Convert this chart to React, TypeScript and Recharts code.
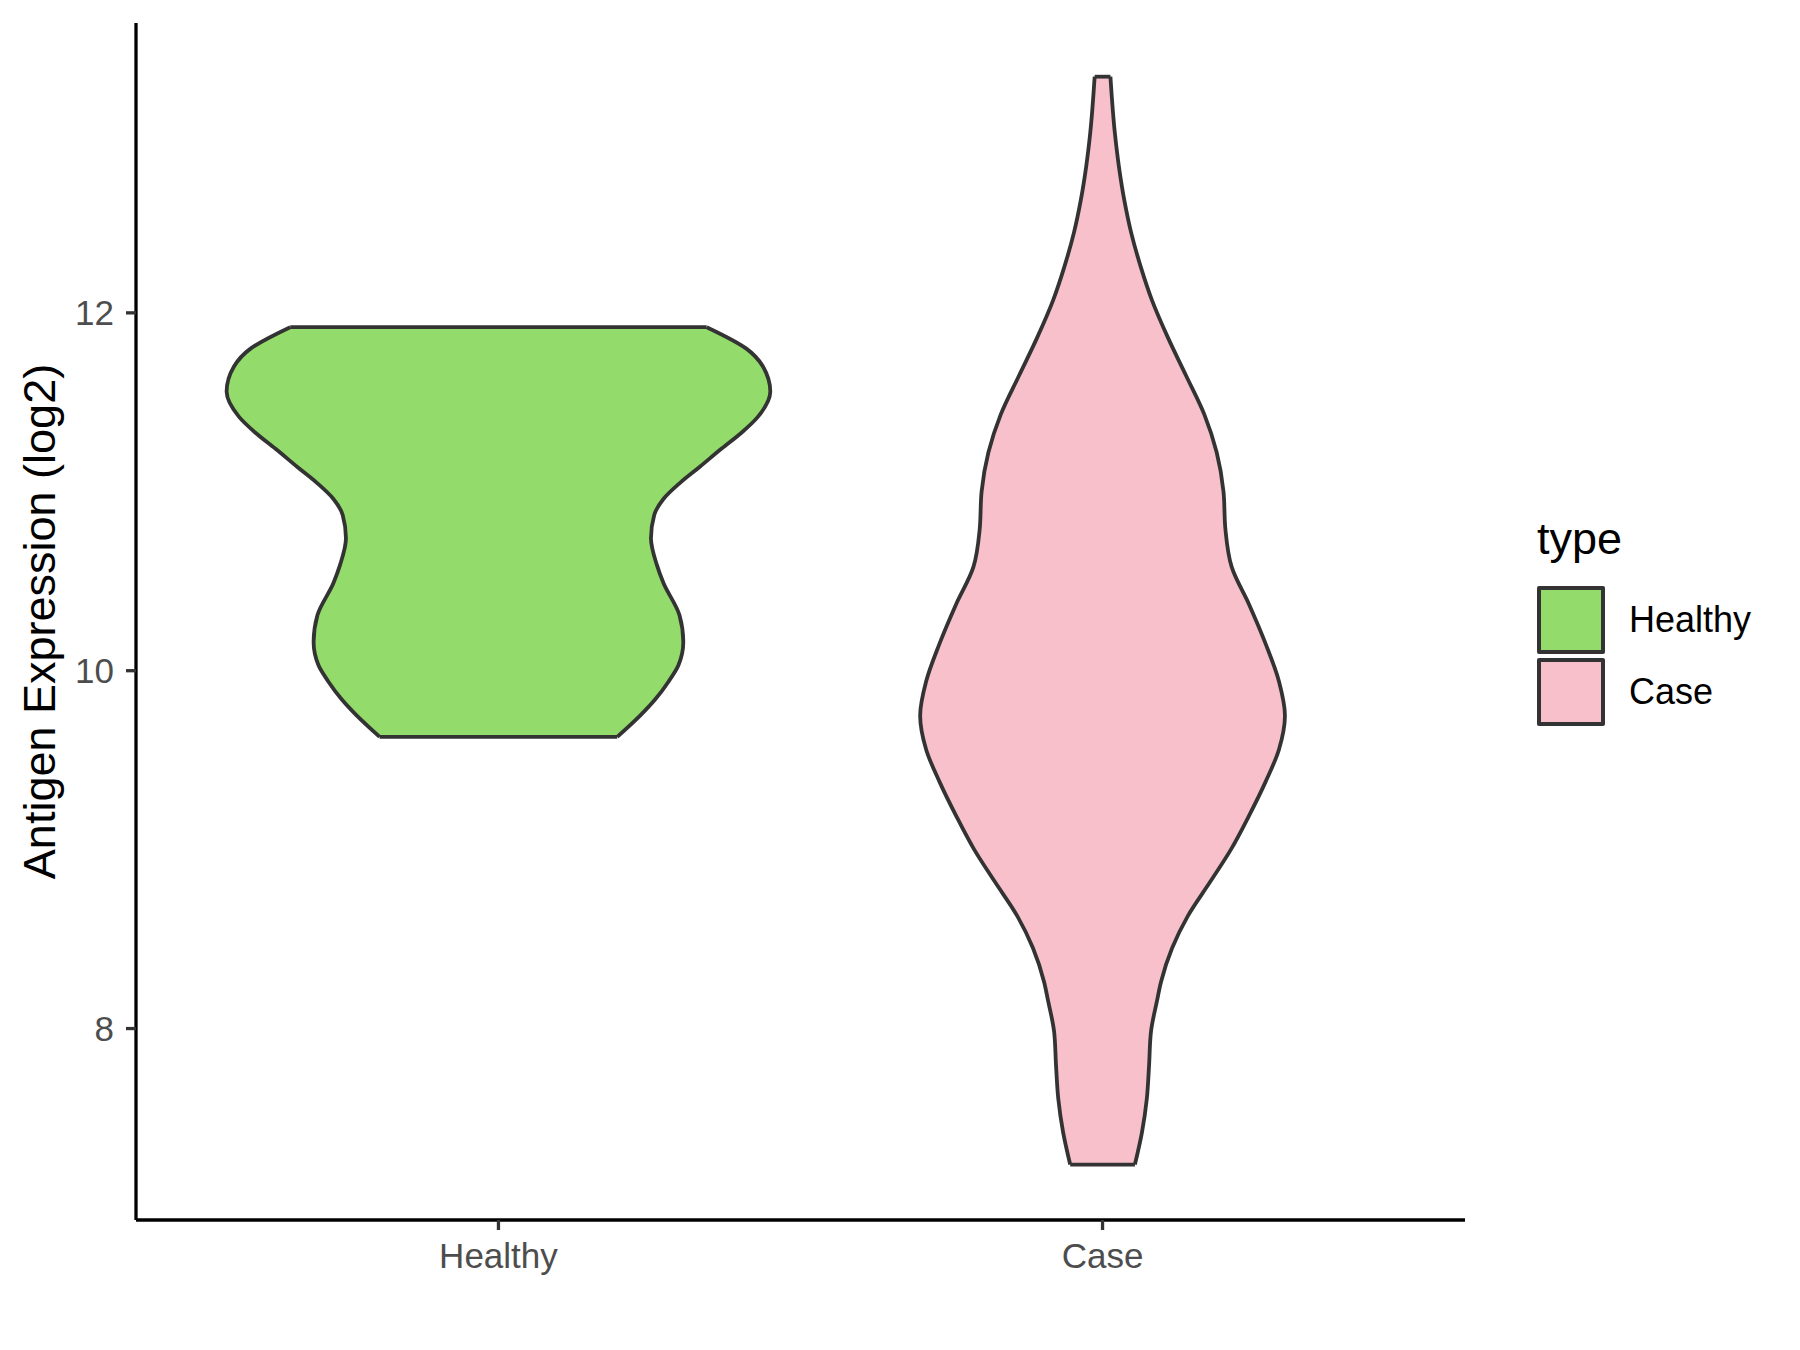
import { Area, ComposedChart, Legend, ReferenceLine, XAxis, YAxis } from "recharts";

const FONT = '"Liberation Sans", Arial, Helvetica, sans-serif';
const OUTLINE = "#333333";

const CATEGORIES = ["Healthy", "Case"];
const FILLS = ["#93DB6A", "#F7C0CB"];
const Y_TICKS = [8, 10, 12];
const Y_DOMAIN: [number, number] = [6.93, 13.62];
const X_DOMAIN: [number, number] = [0.4, 2.6];

// violin outlines: value (log2) and relative density
// (1 = widest point of the Healthy violin)
const HEALTHY_Y = [
  11.92, 11.8, 11.7, 11.56, 11.42, 11.33, 11.24, 11.14, 11.05, 10.96, 10.87,
  10.74, 10.59, 10.49, 10.31, 10.16, 10.03, 9.94, 9.84, 9.75, 9.63,
];
const HEALTHY_DENSITY = [
  0.766, 0.912, 0.973, 1.0, 0.955, 0.894, 0.82, 0.741, 0.668, 0.607, 0.573,
  0.561, 0.583, 0.607, 0.666, 0.68, 0.662, 0.626, 0.577, 0.522, 0.437,
];
const CASE_Y = [
  13.32, 13.01, 12.82, 12.63, 12.45, 12.26, 12.07, 11.86, 11.65, 11.43, 11.22,
  11.0, 10.79, 10.58, 10.37, 10.15, 9.94, 9.75, 9.56, 9.38, 9.19, 9.0, 8.82,
  8.63, 8.45, 8.26, 8.16, 7.98, 7.79, 7.61, 7.42, 7.24,
];
const CASE_DENSITY = [
  0.029, 0.045, 0.06, 0.08, 0.105, 0.14, 0.182, 0.241, 0.307, 0.375, 0.42,
  0.445, 0.452, 0.475, 0.539, 0.6, 0.649, 0.671, 0.649, 0.6, 0.539, 0.472, 0.396,
  0.314, 0.256, 0.215, 0.201, 0.178, 0.171, 0.163, 0.145, 0.119,
];

// ggplot violin: widest point spans 0.9 of a category slot
const HALF = 0.45;

const groups = [
  { key: "healthy", name: CATEGORIES[0], center: 1, fill: FILLS[0], ys: HEALTHY_Y, ds: HEALTHY_DENSITY },
  { key: "case", name: CATEGORIES[1], center: 2, fill: FILLS[1], ys: CASE_Y, ds: CASE_DENSITY },
];

type Row = { y: number; healthy?: number; case?: number };

const rows: Row[] = groups
  .flatMap((g) => g.ys.map((y, i) => ({ y, [g.key]: g.ds[i] } as Row)))
  .sort((a, b) => b.y - a.y);

const spread = (key: "healthy" | "case", center: number) => (r: Row) => {
  const d = r[key];
  return d == null ? [null, null] : [center - HALF * d, center + HALF * d];
};

const tickStyle = { fontSize: 35, fill: "#4D4D4D", fontFamily: FONT };

function YTitle(props: any) {
  const vb = props.viewBox || { x: 0, y: 0, height: 0 };
  const x = vb.x + 19;
  const y = vb.y + vb.height / 2;
  return (
    <text x={x} y={y} transform={`rotate(-90, ${x}, ${y})`} textAnchor="middle"
          fontSize={45} fontFamily={FONT} fill="#000">
      Antigen Expression (log2)
    </text>
  );
}

function TypeLegend({ payload }: any) {
  const items = [...(payload || [])].sort(
    (a: any, b: any) => CATEGORIES.indexOf(a.value) - CATEGORIES.indexOf(b.value));
  return (
    <div style={{ fontFamily: FONT, color: "#000" }}>
      <div style={{ fontSize: 45, lineHeight: "45px", height: 45, marginBottom: 23 }}>type</div>
      {items.map((entry: any) => (
        <div key={entry.value} style={{ display: "flex", alignItems: "center", height: 72 }}>
          <div style={{
            width: 68, height: 68, boxSizing: "border-box", background: entry.payload?.fill,
            border: `4px solid ${OUTLINE}`, borderRadius: 2,
          }} />
          <span style={{ fontSize: 36, marginLeft: 24 }}>{entry.value}</span>
        </div>
      ))}
    </div>
  );
}

export default function App() {
  return (
    <div style={{ position: "absolute", left: 0, top: 0, width: 1800, height: 1350, background: "#fff" }}>
      <ComposedChart width={1800} height={1350} data={rows} layout="vertical"
                     margin={{ top: 23, right: 335, bottom: 50, left: 36 }}>
        <XAxis type="number" domain={X_DOMAIN} ticks={[1, 2]} allowDataOverflow
               tickFormatter={(v: number) => CATEGORIES[v - 1] ?? ""}
               height={80} tick={tickStyle} tickSize={10} tickMargin={13}
               axisLine={{ stroke: "#000", strokeWidth: 3.3 }}
               tickLine={{ stroke: OUTLINE, strokeWidth: 3.3 }} />
        <YAxis type="number" dataKey="y" domain={Y_DOMAIN} ticks={Y_TICKS} allowDataOverflow reversed
               width={100} tick={tickStyle} tickSize={10} tickMargin={12}
               axisLine={{ stroke: "#000", strokeWidth: 3.3 }}
               tickLine={{ stroke: OUTLINE, strokeWidth: 3.3 }}
               label={<YTitle />} />
        {groups.map((g) => (
          <Area key={g.key} name={g.name} dataKey={spread(g.key as "healthy" | "case", g.center)}
                type="monotone" connectNulls fill={g.fill} fillOpacity={1}
                stroke={OUTLINE} strokeWidth={3.8} dot={false} activeDot={false}
                isAnimationActive={false} />
        ))}
        {groups.flatMap((g) => [0, g.ys.length - 1].map((i) => (
          <ReferenceLine key={`${g.key}-${i}`} ifOverflow="visible"
                         segment={[{ x: g.center - HALF * g.ds[i], y: g.ys[i] },
                                   { x: g.center + HALF * g.ds[i], y: g.ys[i] }]}
                         stroke={OUTLINE} strokeWidth={3.8} />
        )))}
        <Legend layout="vertical" align="center" verticalAlign="middle" content={<TypeLegend />}
                wrapperStyle={{ left: 1537, top: 516, width: 260, height: "auto" }} />
      </ComposedChart>
    </div>
  );
}
